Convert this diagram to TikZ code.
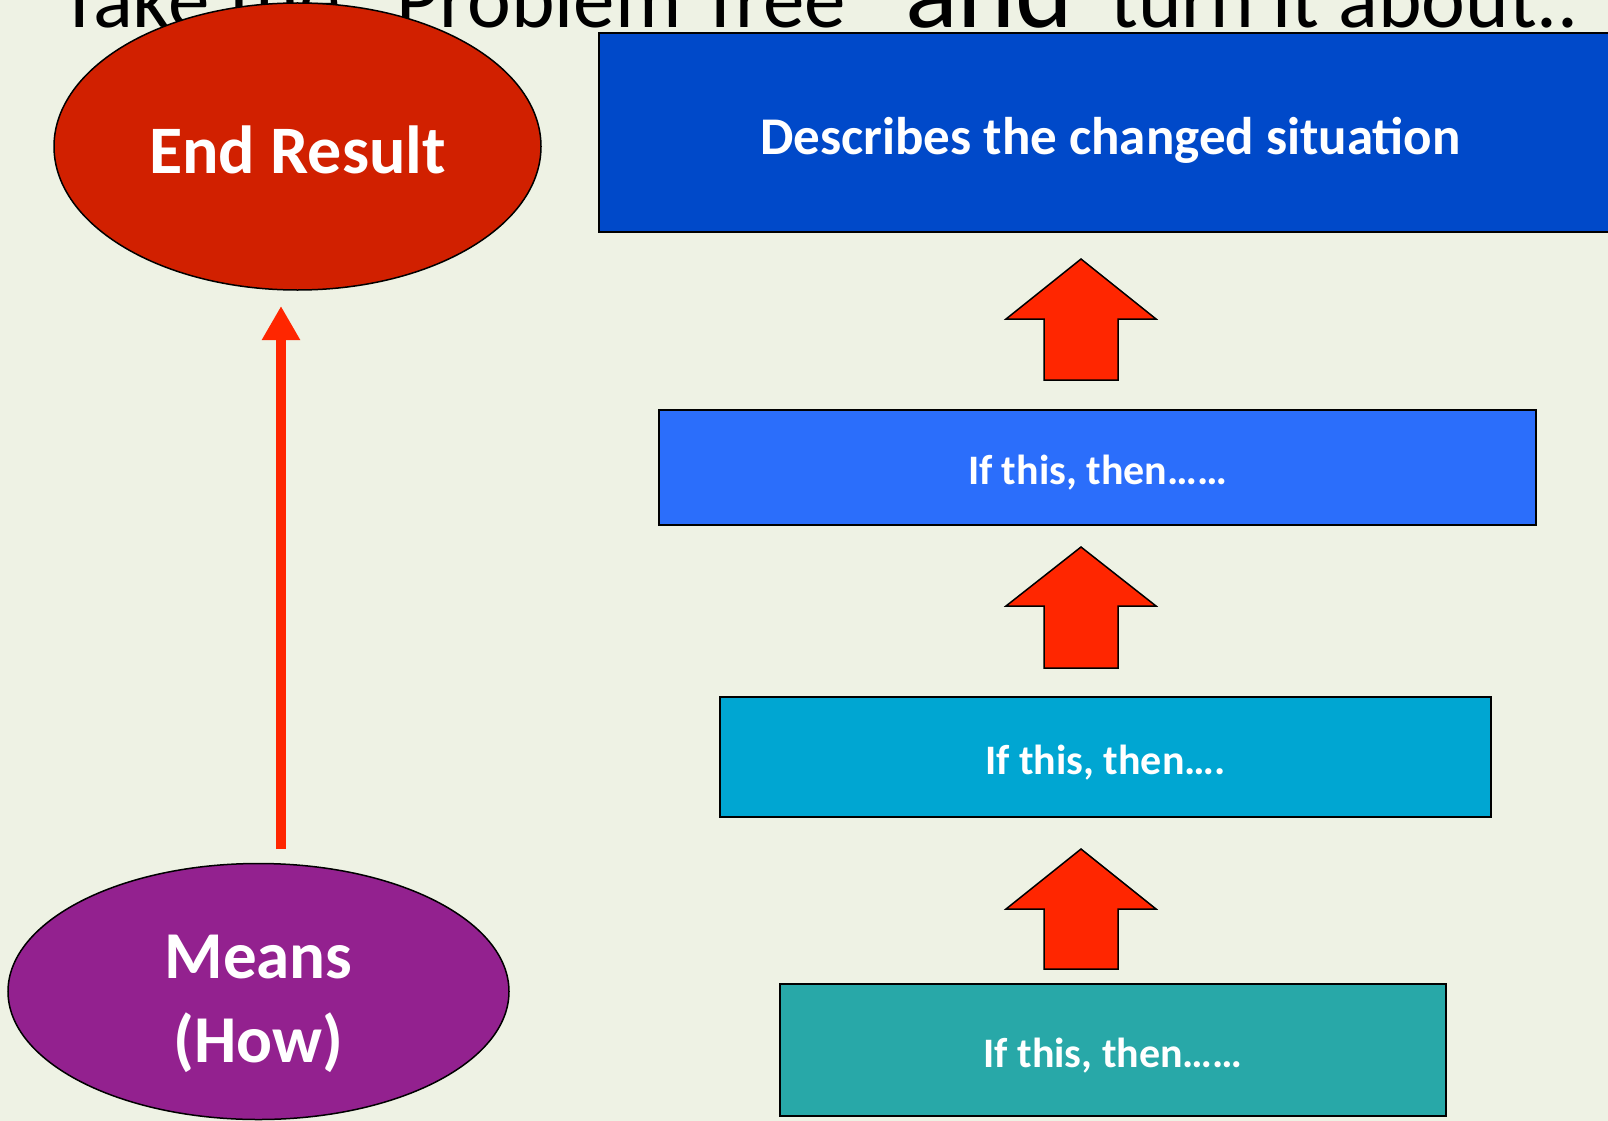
\documentclass[tikz,border=0pt]{standalone}
\usepackage{fontspec}
\setmainfont{Carlito}
\usetikzlibrary{arrows.meta,shapes.geometric}
\definecolor{bg}{HTML}{EEF2E4}
\definecolor{endred}{HTML}{D12000}
\definecolor{blueA}{HTML}{0049C9}
\definecolor{blueB}{HTML}{2B6EFB}
\definecolor{cyanC}{HTML}{00A6D2}
\definecolor{tealD}{HTML}{28A8A8}
\definecolor{purpleM}{HTML}{93218F}
\definecolor{arrowred}{HTML}{FF2600}
\tikzset{
  ttl/.style={inner sep=0pt, anchor=base west, font=\fontsize{83}{100}\selectfont},
  oval/.style={ellipse, draw=black, line width=1.5pt, text=white, inner sep=0pt, align=center,
    font=\bfseries\fontsize{68}{84}\selectfont},
  box/.style={rectangle, draw=black, line width=1.5pt, text=white, inner sep=0pt,
    font=\bfseries\fontsize{42}{50}\selectfont, text depth=0pt},
  blockarrow/.style={fill=arrowred, draw=black, line width=1.5pt, line join=miter},
  thinarrow/.style={line width=10pt, draw=arrowred, -{Triangle[length=34pt,width=36pt]}}
}
\newcommand{\blockup}[4]{% tip x, tip y, head base y, bottom y
  \draw[blockarrow] (#1,#2) -- (#1+75,#3) -- (#1+37,#3) -- (#1+37,#4) -- (#1-37,#4)
    -- (#1-37,#3) -- (#1-75,#3) -- cycle;}
\begin{document}
\begin{tikzpicture}[x=1pt,y=-1pt]
\useasboundingbox (0,0) rectangle (1608,1121);
\fill[bg] (0,0) rectangle (1608,1121);

% title (partly hidden, cut at the top edge as in the reference)
\node[ttl] (t1) at (59,28) {Take the};
\node[ttl] (t2) at (362,28) {“Problem Tree”};
\node[ttl, font=\fontsize{110}{120}\selectfont] (t3) at (905,28) {and};
\node[ttl] (t4) at (1110,28) {turn it about..};

% ovals
\node[oval, fill=endred, minimum width=487pt, minimum height=287pt,
      text height=53pt, text depth=0pt] (end) at (297.5,146.5) {End Result};
\node[oval, fill=purpleM, minimum width=501pt, minimum height=256pt,
      font=\bfseries\fontsize{67}{84}\selectfont, text height=146pt, text depth=5pt] (means) at (258.5,991.5) {Means\\(How)};

% boxes
\node[box, fill=blueA, minimum width=1023pt, minimum height=199pt, text height=43pt,
      font=\bfseries\fontsize{53}{60}\selectfont] (r1) at (1110.5,132.5) {Describes the changed situation};
\node[box, fill=blueB, minimum width=877pt, minimum height=115pt, text height=33pt] (r2) at (1097.5,467.5) {If this, then……};
\node[box, fill=cyanC, minimum width=771pt, minimum height=120pt, text height=34pt] (r3) at (1105.5,757) {If this, then….};
\node[box, fill=tealD, minimum width=666pt, minimum height=132pt, text height=34pt] (r4) at (1113,1050) {If this, then……};

% block arrows
\blockup{1081}{259}{319}{380}
\blockup{1081}{547}{606}{668}
\blockup{1081}{849}{909}{969}

% thin arrow from means to end result
\coordinate (a0) at (281,849);
\coordinate (a1) at (281,306);
\draw[thinarrow] (a0) -- (a1);
\end{tikzpicture}
\end{document}
